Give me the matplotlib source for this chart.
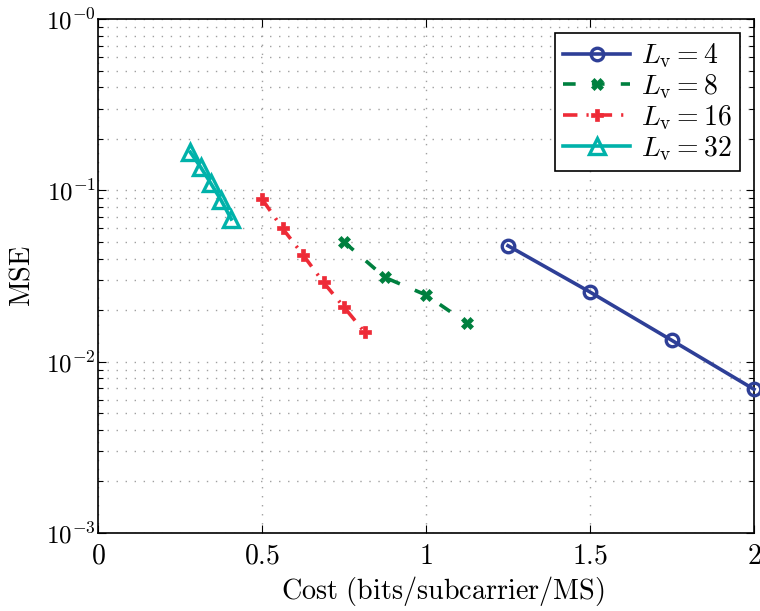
import numpy as np
import matplotlib
matplotlib.use("Agg")
import matplotlib.pyplot as plt
from matplotlib.ticker import LogLocator, NullFormatter

plt.rcParams['mathtext.fontset'] = 'cm'
plt.rcParams['font.family'] = ['DejaVu Serif']

# Data
cost_L4 = [1.25, 1.5, 1.75, 2.0]
mse_L4 = [0.0475, 0.0255, 0.0133, 0.0069]

cost_L8 = [0.75, 0.875, 1.0, 1.125]
mse_L8 = [0.050, 0.031, 0.0245, 0.0168]

cost_L16 = [0.5, 0.5625, 0.625, 0.6875, 0.75, 0.8125]
mse_L16 = [0.089, 0.060, 0.042, 0.029, 0.0208, 0.0149]

cost_L32 = [0.28125, 0.3125, 0.34375, 0.375, 0.40625]
mse_L32 = [0.167, 0.137, 0.110, 0.0877, 0.068]

labels = [r'$L_{\mathrm{v}} = 4$', r'$L_{\mathrm{v}} = 8$',
          r'$L_{\mathrm{v}} = 16$', r'$L_{\mathrm{v}} = 32$']
xticks = [0, 0.5, 1, 1.5, 2]
xticklabels = [r'$0$', r'$0.5$', r'$1$', r'$1.5$', r'$2$']
yticks = [1e-3, 1e-2, 1e-1, 1e0]
yticklabels = [r'$10^{-3}$', r'$10^{-2}$', r'$10^{-1}$', r'$10^{-0}$']

fig = plt.figure(figsize=(7.6, 6.11), dpi=100)
ax = fig.add_axes([98/760, 1-533/611, (754-98)/760, (533-19)/611])

blue = '#2E3F97'
green = '#00803F'
red = '#EE2B37'
cyan = '#00B2AA'

ax.plot(cost_L4, mse_L4, '-', color=blue, lw=2.6, marker='o', ms=9,
        mfc='none', mec=blue, mew=2.4, label=labels[0], clip_on=False, zorder=5)
ax.plot(cost_L8, mse_L8, color=green, lw=2.6, ls=(0, (3.5, 4.5)), marker='X', ms=9,
        mfc=green, mec=green, mew=0.5, label=labels[1], clip_on=False, zorder=5)
ax.plot(cost_L16, mse_L16, color=red, lw=2.6, ls=(0, (4, 2.5, 0.6, 2.5)), marker='P', ms=9,
        mfc=red, mec=red, mew=0.5, label=labels[2], clip_on=False, zorder=5)
ax.plot(cost_L32, mse_L32, '-', color=cyan, lw=2.6, marker='^', ms=11.5,
        mfc='none', mec=cyan, mew=2.4, label=labels[3], clip_on=False, zorder=5)

ax.set_yscale('log')
ax.set_xlim(0, 2)
ax.set_ylim(1e-3, 1e0)

ax.set_xticks(xticks)
ax.set_xticklabels(xticklabels)
ax.set_yticks(yticks)
ax.set_yticklabels(yticklabels)
ax.yaxis.set_minor_locator(LogLocator(base=10, subs=np.arange(2, 10)))
ax.yaxis.set_minor_formatter(NullFormatter())

ax.tick_params(which='both', direction='in', top=True, right=True)
ax.tick_params(axis='x', labelsize=20, pad=7)
ax.tick_params(axis='y', labelsize=18, pad=1.5)
ax.tick_params(which='major', length=6, width=0.8)
ax.tick_params(which='minor', length=3.5, width=0.8)

gridstyle = dict(color='#a0a0a0', ls=(0, (1, 5.5)), lw=1.0)
ax.grid(True, which='major', axis='both', **gridstyle)
ax.grid(True, which='minor', axis='y', **gridstyle)

for s in ax.spines.values():
    s.set_linewidth(1.2)

ax.set_xlabel(r'$\mathrm{Cost\ (bits/subcarrier/MS)}$', fontsize=20.3, labelpad=3)
ax.xaxis.label.set_x(0.526)
ax.set_ylabel(r'$\mathrm{MSE}$', fontsize=20.3, labelpad=8)

leg = ax.legend(loc='upper right', fontsize=20, frameon=True, fancybox=False,
                edgecolor='black', handlelength=2.4, borderaxespad=0.5,
                labelspacing=0.08, handletextpad=0.4, borderpad=0.3)
leg.get_frame().set_linewidth(1.2)
leg.get_frame().set_alpha(1)

fig.savefig('out.png', dpi=100)
